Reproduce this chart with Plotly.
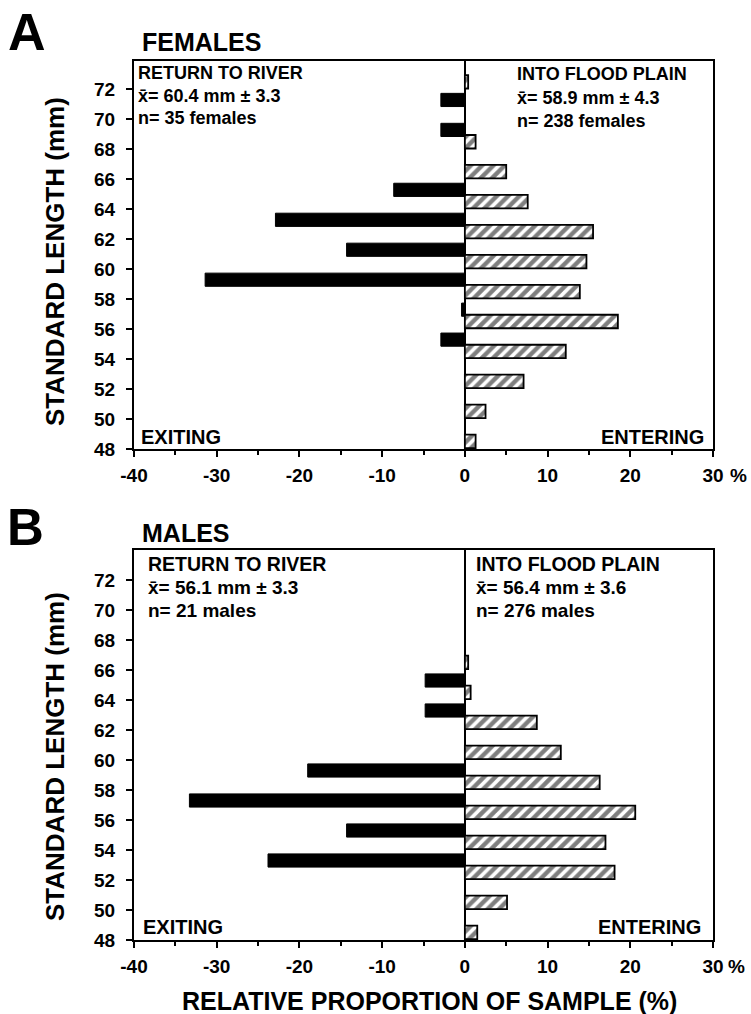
import plotly.graph_objects as go

# ---------------- data ----------------
lengths = [48, 50, 52, 54, 56, 58, 60, 62, 64, 66, 68, 70, 72]
fem_exiting = [0, 0, 0, 0, -2.9, -0.4, -31.4, -14.3, -22.9, -8.6, 0, -2.9, -2.9]
fem_entering = [1.3, 2.5, 7.1, 12.2, 18.5, 13.9, 14.7, 15.5, 7.6, 5.0, 1.3, 0, 0.4]
male_exiting = [0, 0, 0, -23.8, -14.3, -33.3, -19.0, 0, -4.8, -4.8, 0, 0, 0]
male_entering = [1.5, 5.1, 18.1, 17.0, 20.6, 16.3, 11.6, 8.7, 0.7, 0.4, 0, 0, 0]
x_ticks = [-40, -30, -20, -10, 0, 10, 20, 30]
x_ticklabels = ["-40", "-30", "-20", "-10", "0", "10", "20", "30"]

W, H = 751, 1014
FONT = "Liberation Sans, Arial, Helvetica, sans-serif"


def px(x):
    return x / W


def py(y):
    return 1 - y / H


def nz(v):
    return [None if a == 0 else a for a in v]


fig = go.Figure()

panels = [
    dict(ex=fem_exiting, en=fem_entering, xa="x", ya="y"),
    dict(ex=male_exiting, en=male_entering, xa="x2", ya="y2"),
]
for p in panels:
    fig.add_trace(go.Bar(
        y=lengths, x=nz(p["ex"]), orientation="h", width=0.88, offset=-1.14,
        marker=dict(color="black", line=dict(color="black", width=1)),
        xaxis=p["xa"], yaxis=p["ya"], showlegend=False))
    fig.add_trace(go.Bar(
        y=lengths, x=nz(p["en"]), orientation="h", width=0.9, offset=0.06,
        marker=dict(color="white", line=dict(color="black", width=1.8),
                    pattern=dict(shape="/", fgcolor="black", bgcolor="white",
                                 size=8, solidity=0.55)),
        xaxis=p["xa"], yaxis=p["ya"], showlegend=False))

xdom = [px(134), px(713)]
ydomA = [py(449), py(61)]
ydomB = [py(940), py(550)]

common_x = dict(
    domain=xdom, range=[-40, 30], tickvals=x_ticks, ticktext=x_ticklabels,
    ticks="outside", ticklen=6, tickwidth=2, tickcolor="black",
    minor=dict(dtick=5, tick0=-40, ticks="outside", ticklen=4, tickwidth=2, tickcolor="black"),
    showline=True, linewidth=2, linecolor="black", mirror=True,
    zeroline=True, zerolinewidth=2, zerolinecolor="black",
    showgrid=False, fixedrange=True, ticklabelstandoff=2, automargin=False,
    tickfont=dict(family=FONT, size=19, color="black", weight="bold"),
)
common_y = dict(
    tickvals=lengths, ticks="outside", ticklen=6, tickwidth=2, tickcolor="black",
    showline=True, linewidth=2, linecolor="black", mirror=True,
    zeroline=False, showgrid=False, ticklabelstandoff=7, automargin=False,
    tickfont=dict(family=FONT, size=19, color="black", weight="bold"),
)

fig.update_layout(
    width=W, height=H, autosize=False,
    margin=dict(l=0, r=0, t=0, b=0, pad=0, autoexpand=False),
    paper_bgcolor="white", plot_bgcolor="white", barmode="overlay",
    xaxis=dict(anchor="y", **common_x),
    xaxis2=dict(anchor="y2", **common_x),
    yaxis=dict(anchor="x", domain=ydomA, range=[48, 73.9], **common_y),
    yaxis2=dict(anchor="x2", domain=ydomB, range=[48, 74], **common_y),
)


def ann(text, x, y, size, xanchor="left", yanchor="middle", angle=0):
    fig.add_annotation(text=text, x=px(x), y=py(y), xref="paper", yref="paper",
                       xanchor=xanchor, yanchor=yanchor, showarrow=False,
                       textangle=angle, align="left",
                       font=dict(family=FONT, size=size, color="black", weight="bold"))


# panel letters and titles
ann("A", 27, 32, 52, xanchor="center")
ann("FEMALES", 140, 42, 25)
ann("B", 26, 527, 51, xanchor="center")
ann("MALES", 140, 533, 25)

# axis titles
ann("STANDARD LENGTH (mm)", 55, 262, 26, xanchor="center", angle=-90)
ann("STANDARD LENGTH (mm)", 55, 757, 26, xanchor="center", angle=-90)
ann("RELATIVE PROPORTION OF SAMPLE (%)", 429, 1001, 25, xanchor="center")

# % after 30
ann("%", 728, 475, 19)
ann("%", 726, 966, 19)

# panel A texts
ann("RETURN TO RIVER", 136, 73, 18)
ann("x\u0304= 60.4 mm \u00b1 3.3", 136, 96, 18)
ann("n= 35 females", 136, 118, 18)
ann("INTO FLOOD PLAIN", 515, 74, 18)
ann("x\u0304= 58.9 mm \u00b1 4.3", 515, 98, 18)
ann("n= 238 females", 515, 121, 18)
ann("EXITING", 139, 437, 20)
ann("ENTERING", 706, 437, 20, xanchor="right")

# panel B texts
ann("RETURN TO RIVER", 146, 564, 19.5)
ann("x\u0304= 56.1 mm \u00b1 3.3", 146, 587, 19)
ann("n= 21 males", 146, 610, 19)
ann("INTO FLOOD PLAIN", 474, 564, 19.5)
ann("x\u0304= 56.4 mm \u00b1 3.6", 474, 587, 19)
ann("n= 276 males", 474, 610, 19)
ann("EXITING", 141, 927, 20)
ann("ENTERING", 703, 927, 20, xanchor="right")

fig.write_html("out.html")
